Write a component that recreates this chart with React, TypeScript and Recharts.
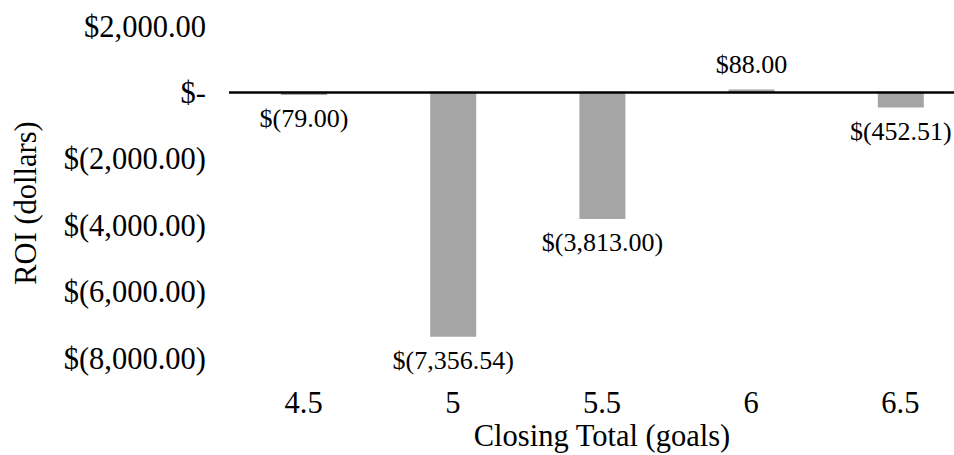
import React from "react";
import { BarChart, Bar, XAxis, YAxis, ReferenceLine, LabelList } from "recharts";

const categories = ["4.5", "5", "5.5", "6", "6.5"];
const roiValues = [-79.0, -7356.54, -3813.0, 88.0, -452.51];
const yTicks = [-8000, -6000, -4000, -2000, 0, 2000];

const data = categories.map((c, i) => ({ closing: c, roi: roiValues[i] }));

const FONT = "'Liberation Serif', 'Times New Roman', Times, serif";
const axisText = { fontFamily: FONT, fontSize: 30.5, fill: "#000" };
const labelText = { fontFamily: FONT, fontSize: 26, fill: "#000" };

const money = (v: number) => {
  if (v === 0) return "$-";
  const s = Math.abs(v).toLocaleString("en-US", { minimumFractionDigits: 2, maximumFractionDigits: 2 });
  return v < 0 ? `$(${s})` : `$${s}`;
};

const YTick = (props: any) => {
  const { x, y, payload } = props;
  return (
    <text x={x - 15} y={y} dy="0.35em" textAnchor="end" style={axisText}>
      {money(payload.value)}
    </text>
  );
};

const XTick = (props: any) => {
  const { x, y, payload } = props;
  return (
    <text x={x} y={y + 36} dy="0.35em" textAnchor="middle" style={axisText}>
      {payload.value}
    </text>
  );
};

const BarLabel = (props: any) => {
  const { x, y, width, height, value } = props;
  const top = Math.min(y, y + height);
  const bottom = Math.max(y, y + height);
  const cy = value < 0 ? bottom + 23 : top - 26;
  return (
    <text x={x + width / 2} y={cy} dy="0.35em" textAnchor="middle" style={labelText}>
      {money(value)}
    </text>
  );
};

const XTitle = (props: any) => {
  const { viewBox } = props;
  const cx = viewBox.x + viewBox.width / 2;
  return (
    <text x={cx} y={435} dy="0.35em" textAnchor="middle" style={axisText}>
      Closing Total (goals)
    </text>
  );
};

const YTitle = (props: any) => {
  const { viewBox } = props;
  const cy = viewBox.y + viewBox.height / 2 + 11;
  return (
    <text x={25} y={cy} dy="0.35em" textAnchor="middle" transform={`rotate(-90, 25, ${cy})`} style={axisText}>
      ROI (dollars)
    </text>
  );
};

export default function App() {
  return (
    <div style={{ position: "fixed", left: 0, top: 0, width: 954, height: 455, overflow: "hidden", background: "#fff" }}>
      <BarChart
        width={980}
        height={455}
        data={data}
        margin={{ top: 26, right: 5, left: 0, bottom: 0 }}
        barCategoryGap={0}
      >
        <XAxis
          dataKey="closing"
          axisLine={false}
          tickLine={false}
          height={97}
          tick={<XTick />}
          interval={0}
          label={<XTitle />}
        />
        <YAxis
          domain={[-8000, 2000]}
          ticks={yTicks}
          axisLine={false}
          tickLine={false}
          width={229}
          tick={<YTick />}
          interval={0}
          label={<YTitle />}
        />
        <ReferenceLine y={0} stroke="#000" strokeWidth={2.5} />
        <Bar dataKey="roi" fill="#a5a5a5" barSize={46} isAnimationActive={false}>
          <LabelList dataKey="roi" content={<BarLabel />} />
        </Bar>
      </BarChart>
    </div>
  );
}
